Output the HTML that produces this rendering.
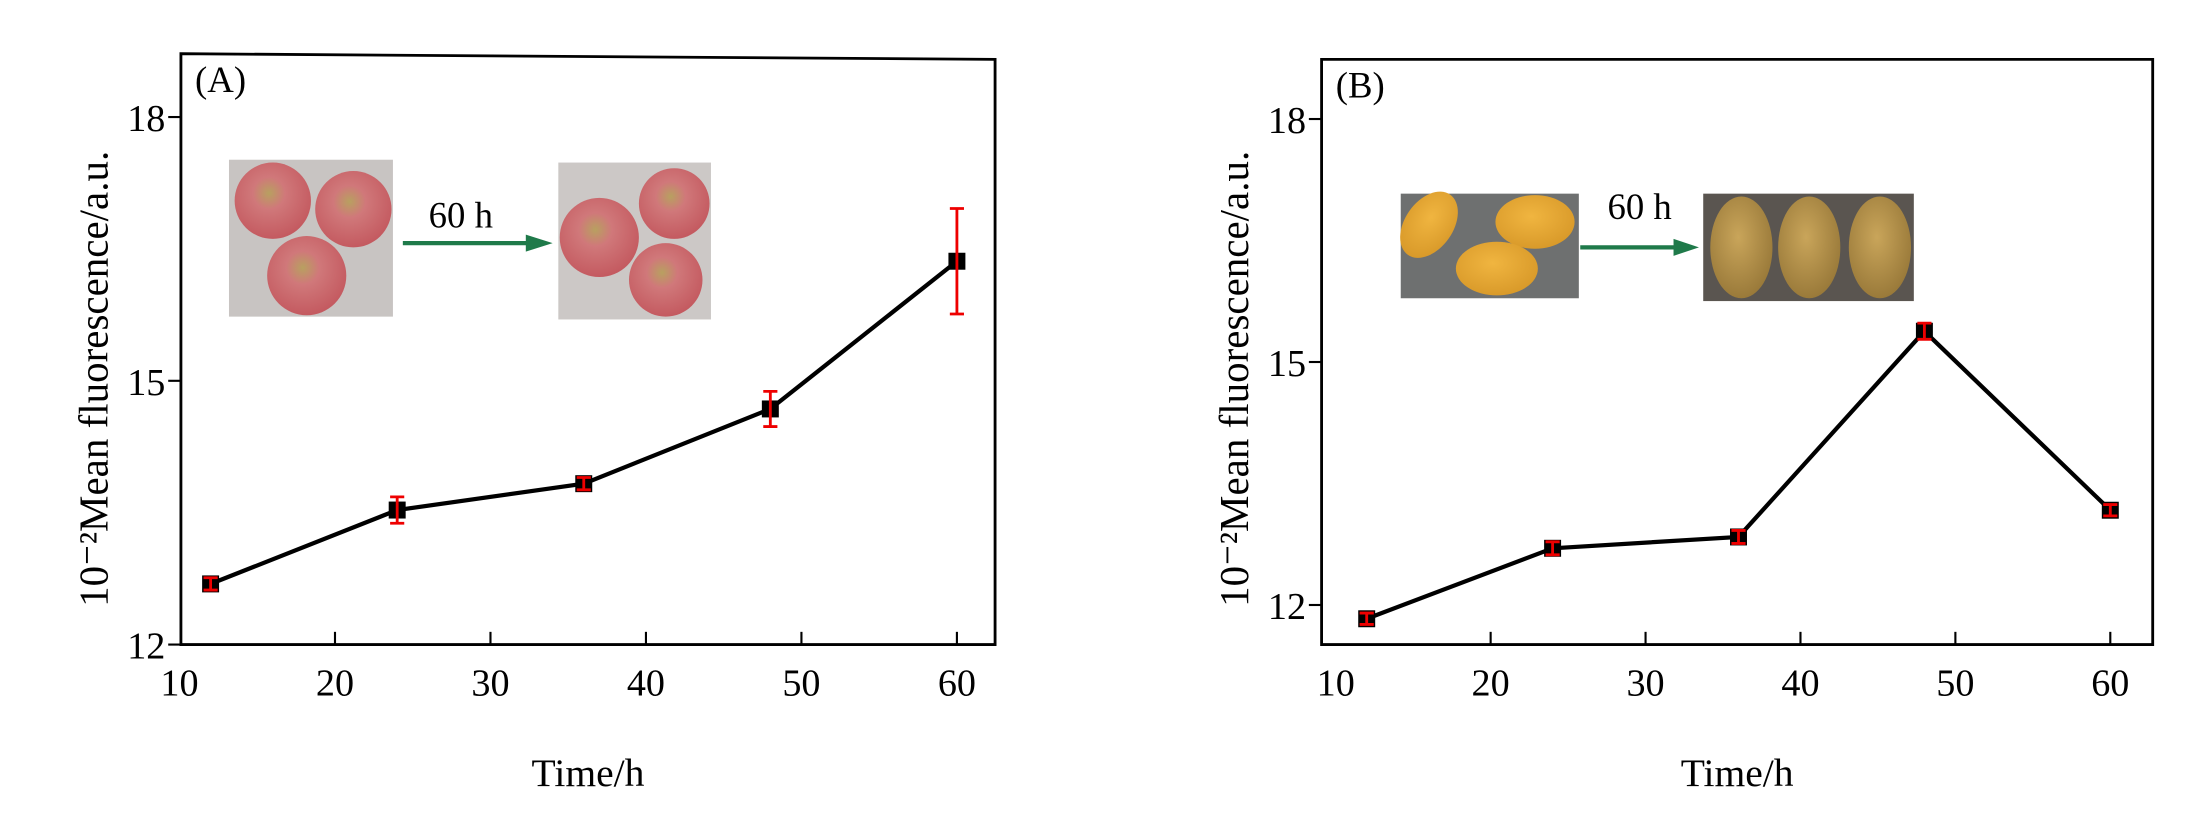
<!DOCTYPE html>
<html><head><meta charset="utf-8"><style>
html,body{margin:0;padding:0;background:#fff;}
svg{display:block;}
text{font-family:"Liberation Serif",serif;fill:#000;}
</style></head><body>
<svg id="fig" width="2205" height="819" viewBox="0 0 1560 579.4" preserveAspectRatio="none" xmlns="http://www.w3.org/2000/svg">
<defs>
<radialGradient id="apple" cx="0.45" cy="0.4" r="0.6"><stop offset="0" stop-color="#b8a060"/><stop offset="0.35" stop-color="#d0787a"/><stop offset="1" stop-color="#c45a60"/></radialGradient>
<radialGradient id="mango" cx="0.45" cy="0.4" r="0.6"><stop offset="0" stop-color="#f0b540"/><stop offset="1" stop-color="#d99a2a"/></radialGradient>
<radialGradient id="rot" cx="0.45" cy="0.4" r="0.6"><stop offset="0" stop-color="#c9a55a"/><stop offset="1" stop-color="#9a7a3a"/></radialGradient>
</defs>
<g id="insets">
 <g>
  <rect x="162" y="113" width="116" height="111" fill="#c8c4c2"/>
  <circle cx="193" cy="142" r="27" fill="url(#apple)"/>
  <circle cx="250" cy="148" r="27" fill="url(#apple)"/>
  <circle cx="217" cy="195" r="28" fill="url(#apple)"/>
 </g>
 <g>
  <line x1="285" y1="172" x2="375" y2="172" stroke="#1f7a4a" stroke-width="3"/>
  <polygon points="372,166 391,172 372,178" fill="#1f7a4a"/>
  <text x="326" y="161" font-size="26" text-anchor="middle">60 h</text>
 </g>
 <g>
  <rect x="395" y="115" width="108" height="111" fill="#ccc8c6"/>
  <circle cx="477" cy="144" r="25" fill="url(#apple)"/>
  <circle cx="424" cy="168" r="28" fill="url(#apple)"/>
  <circle cx="471" cy="198" r="26" fill="url(#apple)"/>
 </g>
 <g>
  <rect x="991" y="137" width="126" height="74" fill="#6e7070"/>
  <ellipse cx="1011" cy="159" rx="17" ry="26" transform="rotate(35 1011 159)" fill="url(#mango)"/>
  <ellipse cx="1086" cy="157" rx="28" ry="19" fill="url(#mango)"/>
  <ellipse cx="1059" cy="190" rx="29" ry="19" fill="url(#mango)"/>
 </g>
 <g>
  <line x1="1118" y1="175" x2="1186" y2="175" stroke="#1f7a4a" stroke-width="3"/>
  <polygon points="1184,169 1202,175 1184,181" fill="#1f7a4a"/>
  <text x="1160" y="155" font-size="26" text-anchor="middle">60 h</text>
 </g>
 <g>
  <rect x="1205" y="137" width="149" height="76" fill="#5a5550"/>
  <ellipse cx="1232" cy="175" rx="22" ry="36" fill="url(#rot)"/>
  <ellipse cx="1280" cy="175" rx="22" ry="36" fill="url(#rot)"/>
  <ellipse cx="1330" cy="175" rx="22" ry="36" fill="url(#rot)"/>
 </g>
</g>
<g id="panelA"></g>
<g id="panelB"></g>
</svg>
<script>
var timesA = [12, 24, 36, 48, 60];
var valuesA = [12.69, 13.53, 13.83, 14.68, 16.36];
var errorsA = [0.07, 0.15, 0.07, 0.2, 0.6];
var timesB = [12, 24, 36, 48, 60];
var valuesB = [11.83, 12.70, 12.84, 15.38, 13.17];
var errorsB = [0.07, 0.08, 0.08, 0.1, 0.07];
var xTicks = [10, 20, 30, 40, 50, 60];
var yTicks = [12, 15, 18];

var NS = 'http://www.w3.org/2000/svg';
function mk(parent, tag, attrs, txt) {
  var e = document.createElementNS(NS, tag);
  for (var k in attrs) e.setAttribute(k, attrs[k]);
  if (txt !== undefined) e.textContent = txt;
  parent.appendChild(e);
  return e;
}
function panel(gid, cfg, times, vals, errs, label) {
  var g = document.getElementById(gid);
  function X(v) { return cfg.x10 + (v - 10) * cfg.xs; }
  function Y(v) { return cfg.y12 - (v - 12) * cfg.ys; }
  var frame = mk(g, 'polygon', {points: cfg.l + ',' + cfg.tl + ' ' + cfg.r + ',' + cfg.tr + ' ' + cfg.r + ',' + cfg.b + ' ' + cfg.l + ',' + cfg.b, fill: 'none', stroke: '#000', 'stroke-width': 2});
  
  
  xTicks.forEach(function (t) {
    var x = X(t);
    if (t > 10) {
      var tk = mk(g, 'line', {x1: x, y1: cfg.b, x2: x, y2: cfg.b - 9, stroke: '#000', 'stroke-width': 1.5});
      
      
    }
    var tl = mk(g, 'text', {x: x, y: cfg.b + 36, 'font-size': 27, 'text-anchor': 'middle'}, String(t));
    
    
  });
  yTicks.forEach(function (t) {
    var y = Y(t);
    var tk = mk(g, 'line', {x1: cfg.l, y1: y, x2: cfg.l - 9, y2: y, stroke: '#000', 'stroke-width': 1.5});
    
    
    var tl = mk(g, 'text', {x: cfg.l - 11, y: y + 10, 'font-size': 27, 'text-anchor': 'end'}, String(t));
    
    
  });
  var pts = times.map(function (t, i) { return X(t) + ',' + Y(vals[i]); }).join(' ');
  var line = mk(g, 'polyline', {points: pts, fill: 'none', stroke: '#000', 'stroke-width': 3});
  
  
  times.forEach(function (t, i) {
    var x = X(t), y = Y(vals[i]), y1 = Y(vals[i] + errs[i]), y2 = Y(vals[i] - errs[i]);
    var m = mk(g, 'rect', {x: x - 6, y: y - 6, width: 12, height: 12, fill: '#000'});
    
    
    var eb = mk(g, 'path', {d: 'M' + x + ',' + y1 + 'V' + y2 + 'M' + (x - 5) + ',' + y1 + 'H' + (x + 5) + 'M' + (x - 5) + ',' + y2 + 'H' + (x + 5), stroke: '#e00', 'stroke-width': 2, fill: 'none'});
    
    
  });
  var pl = mk(g, 'text', {x: cfg.l + 10, y: cfg.tl + 27, 'font-size': 26}, cfg.tag);
  
  
  var xt = mk(g, 'text', {x: (cfg.l + cfg.r) / 2, y: 556, 'font-size': 28, 'text-anchor': 'middle'}, 'Time/h');
  
  
  var yt = mk(g, 'text', {x: 0, y: 0, 'font-size': 29, 'text-anchor': 'middle', transform: 'translate(' + cfg.ytx + ',' + cfg.yty + ') rotate(-90)'}, '10\u207B\u00B2Mean fluorescence/a.u.');
  
  
}
panel('panelA', {l: 128, r: 704, tl: 38, tr: 42, b: 456, x10: 127, xs: 11.0, y12: 456, ys: 62.2, tag: '(A)', ytx: 76, yty: 268}, timesA, valuesA, errorsA, 'apple');
panel('panelB', {l: 935, r: 1523, tl: 42, tr: 42, b: 456, x10: 945, xs: 10.96, y12: 428, ys: 57.3, tag: '(B)', ytx: 883, yty: 268}, timesB, valuesB, errorsB, 'mango');
</script>
</body></html>
